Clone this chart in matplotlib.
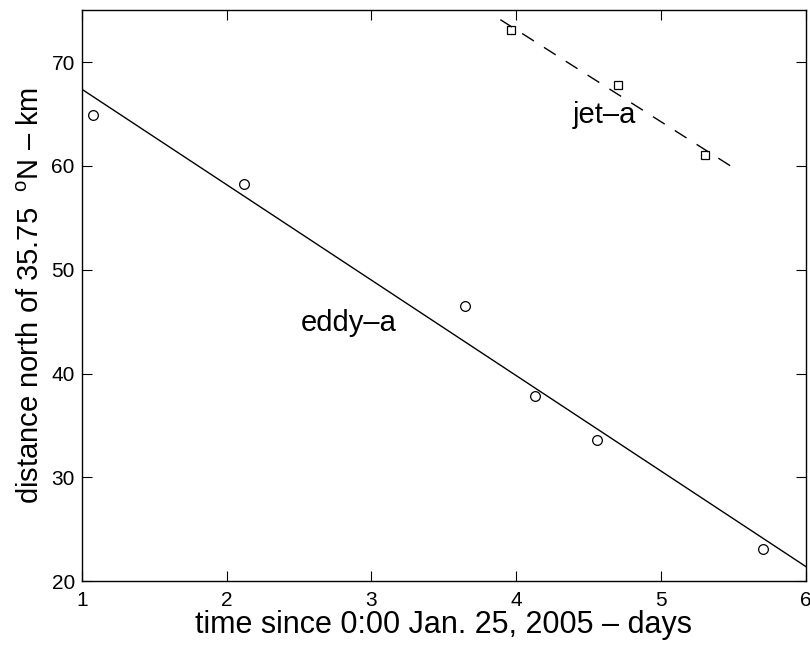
import numpy as np
import matplotlib
matplotlib.use('Agg')
import matplotlib.pyplot as plt

plt.rcParams['font.family'] = ['Liberation Sans', 'DejaVu Sans']
plt.rcParams['mathtext.fontset'] = 'custom'
plt.rcParams['mathtext.rm'] = 'Liberation Sans'

# eddy-a observations
eddy_t = [1.076, 2.12, 3.645, 4.128, 4.556, 5.70]
eddy_y = [64.9, 58.3, 46.5, 37.8, 33.6, 23.1]
# eddy-a fit line endpoints
eddy_fit_t = [1.0, 6.0]
eddy_fit_y = [67.4, 21.4]

# jet-a observations
jet_t = [3.963, 4.70, 5.30]
jet_y = [73.1, 67.8, 61.1]
# jet-a fit line endpoints
jet_fit_t = [3.89, 5.48]
jet_fit_y = [74.1, 60.0]

fig = plt.figure(figsize=(8.1, 6.45), dpi=100)
ax = fig.add_axes([0.101, 0.099, 0.894, 0.885])

ax.plot(eddy_fit_t, eddy_fit_y, color='black', lw=1.0)
ax.plot(eddy_t, eddy_y, 'o', mfc='none', mec='black', ms=7, mew=0.9)
ax.plot(jet_fit_t, jet_fit_y, color='black', lw=1.0, dashes=(10, 8.6))
ax.plot(jet_t, jet_y, 's', mfc='none', mec='black', ms=6, mew=0.9)

ax.text(4.61, 64.9, 'jet\u2013a', fontsize=21, ha='center', va='center')
ax.text(2.84, 44.9, 'eddy\u2013a', fontsize=21, ha='center', va='center')

ax.set_xlim(1, 6)
ax.set_ylim(20, 75)
ax.set_xticks([1, 2, 3, 4, 5, 6])
ax.set_yticks([20, 30, 40, 50, 60, 70])
ax.tick_params(direction='in', top=True, right=True, labelsize=15, length=7, pad=5)
ax.tick_params(axis='x', pad=7)
for s in ax.spines.values():
    s.set_linewidth(1.0)

ax.set_xlabel('time since 0:00 Jan. 25, 2005 \u2013 days', fontsize=22, labelpad=0)
ax.set_ylabel('distance north of 35.75  $^{\\rm o}$N \u2013 km', fontsize=21, labelpad=5)

fig.savefig('out.png', dpi=100)
